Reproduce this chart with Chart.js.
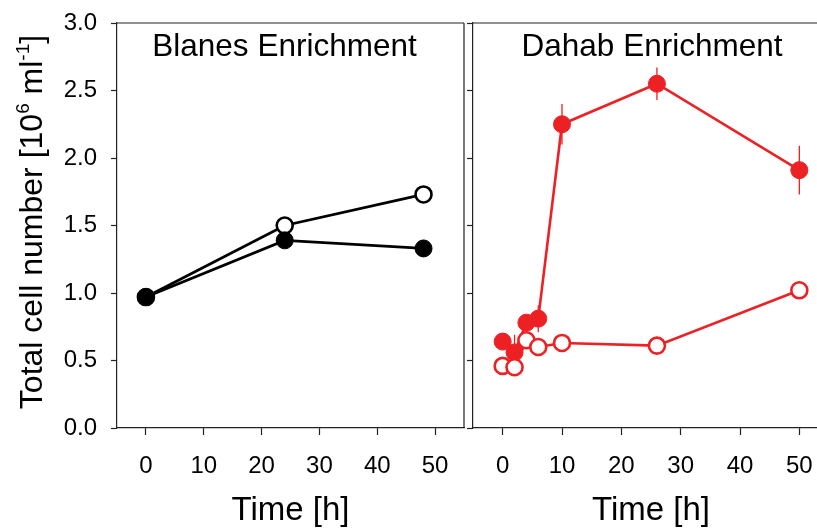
<!DOCTYPE html>
<html>
<head>
<meta charset="utf-8">
<title>Total cell number</title>
<script src="https://cdn.jsdelivr.net/npm/chart.js@4/dist/chart.umd.min.js"></script>
<style>
html, body { margin: 0; padding: 0; background: #fff; width: 817px; height: 528px; overflow: hidden; }
#leftChart { position: absolute; left: 0; top: 0; }
#rightChart { position: absolute; left: 467px; top: 0; }
</style>
</head>
<body>
<canvas id="leftChart" width="467" height="528"></canvas>
<canvas id="rightChart" width="380" height="528"></canvas>
<script>
// Blanes enrichment (time in h, cells in 10^6 per ml)
var blanesTime = [0, 24, 48];
var blanesFilled = [0.97, 1.39, 1.33];
var blanesOpen = [0.97, 1.50, 1.73];

// Dahab enrichment
var dahabTime = [0, 2, 4, 6, 10, 26, 50];
var dahabFilled = [0.64, 0.56, 0.78, 0.81, 2.25, 2.55, 1.91];
var dahabFilledErr = [0.02, 0.13, 0.03, 0.10, 0.15, 0.12, 0.18];
var dahabOpen = [0.46, 0.45, 0.65, 0.60, 0.63, 0.61, 1.02];

var xTicks = [0, 10, 20, 30, 40, 50];
var yTicks = [0, 0.5, 1.0, 1.5, 2.0, 2.5, 3.0];
var panelTitles = ['Blanes Enrichment', 'Dahab Enrichment'];
var xTitle = 'Time [h]';
// y title pieces, second field marks superscript
var yTitleParts = [['Total cell number [10', false], ['6', true], [' ml', false], ['-1', true], [']', false]];

var FONT = "'Liberation Sans', Arial, Helvetica, sans-serif";
var RED = '#ed2024';
var AXIS = '#222';

function toPoints(xs, ys) {
	var pts = [];
	for (var i = 0; i < xs.length; i++) {
		pts.push({x: xs[i], y: ys[i]});
	}
	return pts;
}

// vertical error bars, drawn under the markers
var errorBars = {
	id: 'errorBars',
	beforeDatasetsDraw: function (chart) {
		var ctx = chart.ctx;
		var xs = chart.scales.x, ys = chart.scales.y;
		chart.data.datasets.forEach(function (ds) {
			if (!ds.errors) return;
			ctx.save();
			ctx.strokeStyle = ds.borderColor;
			ctx.lineWidth = 1.3;
			ds.data.forEach(function (p, j) {
				var e = ds.errors[j];
				var px = xs.getPixelForValue(p.x);
				ctx.beginPath();
				ctx.moveTo(px, ys.getPixelForValue(p.y - e));
				ctx.lineTo(px, ys.getPixelForValue(p.y + e));
				ctx.stroke();
			});
			ctx.restore();
		});
	}
};

// top / right edges of the plot box
var frame = {
	id: 'frame',
	afterDraw: function (chart, args, opts) {
		var a = chart.chartArea, ctx = chart.ctx;
		ctx.save();
		ctx.strokeStyle = AXIS;
		ctx.lineWidth = 1.2;
		ctx.beginPath();
		if (opts.top) { ctx.moveTo(a.left, a.top); ctx.lineTo(opts.topEnd || a.right, a.top); }
		if (opts.right) { ctx.moveTo(a.right, a.top); ctx.lineTo(a.right, a.bottom); }
		ctx.stroke();
		ctx.restore();
	}
};

// panel name written inside the plot
var panelTitle = {
	id: 'panelTitle',
	afterDraw: function (chart, args, opts) {
		var a = chart.chartArea, ctx = chart.ctx;
		ctx.save();
		ctx.fillStyle = '#000';
		ctx.font = '31.5px ' + FONT;
		ctx.textAlign = 'center';
		ctx.textBaseline = 'alphabetic';
		ctx.fillText(opts.text, (a.left + a.right) / 2 + (opts.dx || 0), a.top + 33);
		ctx.restore();
	}
};

// rotated y title with superscripts
var yTitle = {
	id: 'yTitle',
	afterDraw: function (chart, args, opts) {
		if (!opts.show) return;
		var ctx = chart.ctx;
		var big = '32px ' + FONT, small = '19px ' + FONT;
		ctx.save();
		ctx.fillStyle = '#000';
		ctx.textBaseline = 'alphabetic';
		var total = 0;
		yTitleParts.forEach(function (p) {
			ctx.font = p[1] ? small : big;
			total += ctx.measureText(p[0]).width;
		});
		ctx.translate(opts.x, opts.y);
		ctx.rotate(-Math.PI / 2);
		var pos = -total / 2;
		yTitleParts.forEach(function (p) {
			ctx.font = p[1] ? small : big;
			ctx.fillText(p[0], pos, p[1] ? -13 : 0);
			pos += ctx.measureText(p[0]).width;
		});
		ctx.restore();
	}
};

function makeScales(showYLabels, yWidth) {
	return {
		x: {
			type: 'linear',
			min: -5,
			max: 55,
			afterBuildTicks: function (s) {
				s.ticks = xTicks.map(function (v) { return {value: v}; });
			},
			afterFit: function (s) {
				s.height = 100;
				s.paddingLeft = 0;
				s.paddingRight = 0;
			},
			grid: { drawOnChartArea: false, drawTicks: true, tickLength: 7, tickWidth: 1.2, tickColor: AXIS },
			border: { color: AXIS, width: 1.2 },
			ticks: { color: '#000', font: {family: FONT, size: 24}, padding: 17, maxRotation: 0, autoSkip: false },
			title: { display: true, text: xTitle, color: '#000', font: {family: FONT, size: 33, lineHeight: 1}, padding: {top: 0, bottom: 1} }
		},
		y: {
			type: 'linear',
			min: 0,
			max: 3,
			afterBuildTicks: function (s) {
				s.ticks = yTicks.map(function (v) { return {value: v}; });
			},
			afterFit: function (s) {
				s.width = yWidth;
				s.paddingTop = 0;
				s.paddingBottom = 0;
			},
			grid: { drawOnChartArea: false, drawTicks: true, tickLength: 6, tickWidth: 1.2, tickColor: AXIS },
			border: { color: AXIS, width: 1.2 },
			ticks: {
				display: showYLabels,
				color: '#000',
				font: {family: FONT, size: 24},
				padding: 14,
				callback: function (v) { return Number(v).toFixed(1); }
			}
		}
	};
}

var leftChart = new Chart(document.getElementById('leftChart'), {
	type: 'line',
	data: {
		datasets: [{
			label: 'filled',
			data: toPoints(blanesTime, blanesFilled),
			borderColor: '#000',
			backgroundColor: '#000',
			borderWidth: 2.8,
			pointRadius: 8.5,
			pointBorderWidth: 1,
			pointBackgroundColor: '#000',
			pointBorderColor: '#000',
			order: 0
		}, {
			label: 'open',
			data: toPoints(blanesTime, blanesOpen),
			borderColor: '#000',
			backgroundColor: '#fff',
			borderWidth: 2.8,
			pointRadius: 8,
			pointBorderWidth: 2.6,
			pointBackgroundColor: '#fff',
			pointBorderColor: '#000',
			order: 1
		}]
	},
	options: {
		responsive: false,
		animation: false,
		devicePixelRatio: 1,
		layout: { autoPadding: false, padding: {left: 0, top: 23, right: 3, bottom: 0} },
		scales: makeScales(true, 117),
		plugins: {
			legend: { display: false },
			tooltip: { enabled: false },
			frame: { top: true, right: true },
			panelTitle: { text: panelTitles[0], dx: -6 },
			yTitle: { show: true, x: 42, y: 222 }
		}
	},
	plugins: [errorBars, frame, panelTitle, yTitle]
});

var rightChart = new Chart(document.getElementById('rightChart'), {
	type: 'line',
	data: {
		datasets: [{
			label: 'filled',
			data: toPoints(dahabTime, dahabFilled),
			errors: dahabFilledErr,
			borderColor: RED,
			backgroundColor: RED,
			borderWidth: 2.6,
			pointRadius: 8.5,
			pointBorderWidth: 1,
			pointBackgroundColor: RED,
			pointBorderColor: RED,
			order: 1
		}, {
			label: 'open',
			data: toPoints(dahabTime, dahabOpen),
			borderColor: RED,
			backgroundColor: '#fff',
			borderWidth: 2.6,
			pointRadius: 8,
			pointBorderWidth: 2.6,
			pointBackgroundColor: '#fff',
			pointBorderColor: RED,
			order: 0
		}]
	},
	options: {
		responsive: false,
		animation: false,
		devicePixelRatio: 1,
		layout: { autoPadding: false, padding: {left: 0, top: 23, right: 18, bottom: 0} },
		scales: makeScales(false, 6),
		plugins: {
			legend: { display: false },
			tooltip: { enabled: false },
			frame: { top: true, right: false, topEnd: 380 },
			panelTitle: { text: panelTitles[1], dx: 1 },
			yTitle: { show: false }
		}
	},
	plugins: [errorBars, frame, panelTitle, yTitle]
});
</script>
</body>
</html>
